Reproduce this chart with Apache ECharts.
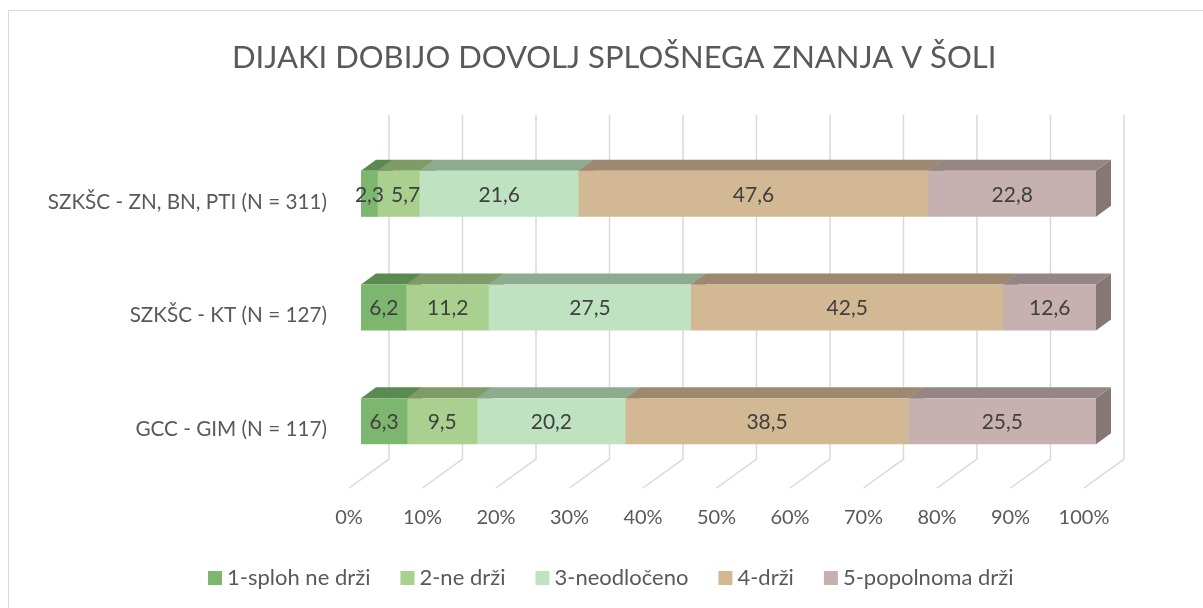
<!DOCTYPE html>
<html>
<head>
<meta charset="utf-8">
<title>Dijaki dobijo dovolj splošnega znanja v šoli</title>
<script src="https://cdn.jsdelivr.net/npm/echarts@6/dist/echarts.min.js"></script>
<style>
    html, body { margin: 0; padding: 0; background: #fff; }
    #chart { width: 1203px; height: 608px; }
</style>
</head>
<body>
<div id="chart"></div>
<script>
    // podatki (v %)
    const categories = ['SZKŠC - ZN, BN, PTI (N = 311)', 'SZKŠC - KT (N = 127)', 'GCC - GIM (N = 117)'];
    const seriesNames = ['1-sploh ne drži', '2-ne drži', '3-neodločeno', '4-drži', '5-popolnoma drži'];
    const splohNeDrzi = [2.3, 6.2, 6.3];
    const neDrzi = [5.7, 11.2, 9.5];
    const neodloceno = [21.6, 27.5, 20.2];
    const drzi = [47.6, 42.5, 38.5];
    const popolnomaDrzi = [22.8, 12.6, 25.5];
    const ticks = [0, 10, 20, 30, 40, 50, 60, 70, 80, 90, 100];

    const allValues = [splohNeDrzi, neDrzi, neodloceno, drzi, popolnomaDrzi];

    // barve ploskev (spredaj, zgoraj, desno)
    const frontColors = ['#7cb66f', '#a9d08e', '#bfe2c1', '#d3b894', '#c6b0b0'];
    const topColors = ['#5a8a50', '#7f9b67', '#8fab8e', '#9f8870', '#968585'];
    const sideColors = ['#4f7a46', '#6f8a59', '#7f9a7e', '#8d7862', '#857775'];

    const FONT = 'Lato';
    const LABEL_SIZE = 21;
    const DX = 15, DY = -11;     // globina stolpca
    const SHIFT = 12;            // zamik sprednje ploskve od tal

    const fmt = v => String(v).replace('.', ',');

    // sirina besedila za razmik prekrivajocih se oznak
    const ctx = document.createElement('canvas').getContext('2d');
    ctx.font = LABEL_SIZE + 'px ' + FONT;
    const textW = s => ctx.measureText(s).width;

    const chart = echarts.init(document.getElementById('chart'));

    // kumulativni zacetki za zlaganje
    const starts = categories.map(() => 0);
    const series = [];

    series.push({
        type: 'custom',
        name: 'grid',
        silent: true,
        z: 1,
        encode: { x: 0 },
        data: ticks.map(v => [v]),
        renderItem: function (params, api) {
            const p = api.coord([api.value(0), 0]);
            const cs = params.coordSys;
            const bottom = cs.y + cs.height;
            return {
                type: 'polyline',
                shape: { points: [[p[0] + 40, cs.y - 30], [p[0] + 40, bottom - 27], [p[0], bottom + 2]] },
                style: { stroke: '#d9d9d9', lineWidth: 1.5, fill: null }
            };
        }
    });

    allValues.forEach(function (vals, k) {
        const prevVals = k > 0 ? allValues[k - 1] : null;
        const data = vals.map(function (v, i) {
            const s = starts[i];
            starts[i] += v;
            const ps = prevVals ? s - prevVals[i] : s;
            return [s, s + v, i, v, ps, prevVals ? prevVals[i] : 0];
        });
        series.push({
            type: 'custom',
            name: seriesNames[k],
            itemStyle: { color: frontColors[k] },
            encode: { x: [0, 1], y: 2 },
            data: data,
            renderItem: function (params, api) {
                const a = api.coord([api.value(0), api.value(2)]);
                const b = api.coord([api.value(1), api.value(2)]);
                const l = a[0] + SHIFT, r = b[0] + SHIFT;
                const c = a[1];
                const t = c - 31, btm = c + 15;
                const txt = fmt(api.value(3));
                let cx = (l + r) / 2;
                if (k > 0) {
                    // premik oznake, ce se prekriva s prejsnjo
                    const pl = api.coord([api.value(4), api.value(2)])[0] + SHIFT;
                    const prevRight = (pl + l) / 2 + textW(fmt(api.value(5))) / 2 + 7;
                    const left = cx - textW(txt) / 2;
                    if (left < prevRight) cx += prevRight - left;
                }
                return {
                    type: 'group',
                    children: [
                        {
                            type: 'polygon',
                            shape: { points: [[r, t], [r + DX, t + DY], [r + DX, btm + DY], [r, btm]] },
                            style: { fill: sideColors[k] }
                        },
                        {
                            type: 'polygon',
                            shape: { points: [[l, t], [r, t], [r + DX, t + DY], [l + DX, t + DY]] },
                            style: { fill: topColors[k] }
                        },
                        {
                            type: 'rect',
                            shape: { x: l, y: t, width: r - l, height: btm - t },
                            style: { fill: frontColors[k] }
                        },
                        {
                            type: 'text',
                            z2: 100,
                            style: {
                                text: txt,
                                x: cx,
                                y: (t + btm) / 2 + 1,
                                align: 'center',
                                verticalAlign: 'middle',
                                fill: '#404040',
                                fontFamily: FONT,
                                fontSize: LABEL_SIZE
                            }
                        }
                    ]
                };
            }
        });
    });

    chart.setOption({
        animation: false,
        backgroundColor: '#fff',
        textStyle: { fontFamily: FONT },
        title: {
            text: 'DIJAKI DOBIJO DOVOLJ SPLOŠNEGA ZNANJA V ŠOLI',
            left: 227,
            top: 37,
            textStyle: { fontFamily: FONT, fontSize: 31, fontWeight: 'normal', color: '#595959' }
        },
        graphic: [{
            type: 'rect',
            silent: true,
            shape: { x: 8.5, y: 10.5, width: 1200, height: 600 },
            style: { fill: 'none', stroke: '#d9d9d9', lineWidth: 1 }
        }],
        legend: {
            data: seriesNames,
            top: 562,
            left: 203,
            icon: 'rect',
            itemWidth: 14,
            itemHeight: 14,
            itemGap: 30,
            textStyle: { fontFamily: FONT, fontSize: 22, color: '#595959' }
        },
        grid: { left: 349, right: 119, top: 145, bottom: 122, containLabel: false },
        xAxis: {
            type: 'value',
            min: 0,
            max: 100,
            interval: 10,
            axisLine: { show: false },
            axisTick: { show: false },
            splitLine: { show: false },
            axisLabel: {
                formatter: '{value}%',
                margin: 22,
                color: '#595959',
                fontFamily: FONT,
                fontSize: 20
            }
        },
        yAxis: {
            type: 'category',
            inverse: true,
            data: categories,
            axisLine: { show: false },
            axisTick: { show: false },
            axisLabel: {
                margin: 22,
                color: '#595959',
                fontFamily: FONT,
                fontSize: 20.7
            }
        },
        series: series
    });
</script>
</body>
</html>
